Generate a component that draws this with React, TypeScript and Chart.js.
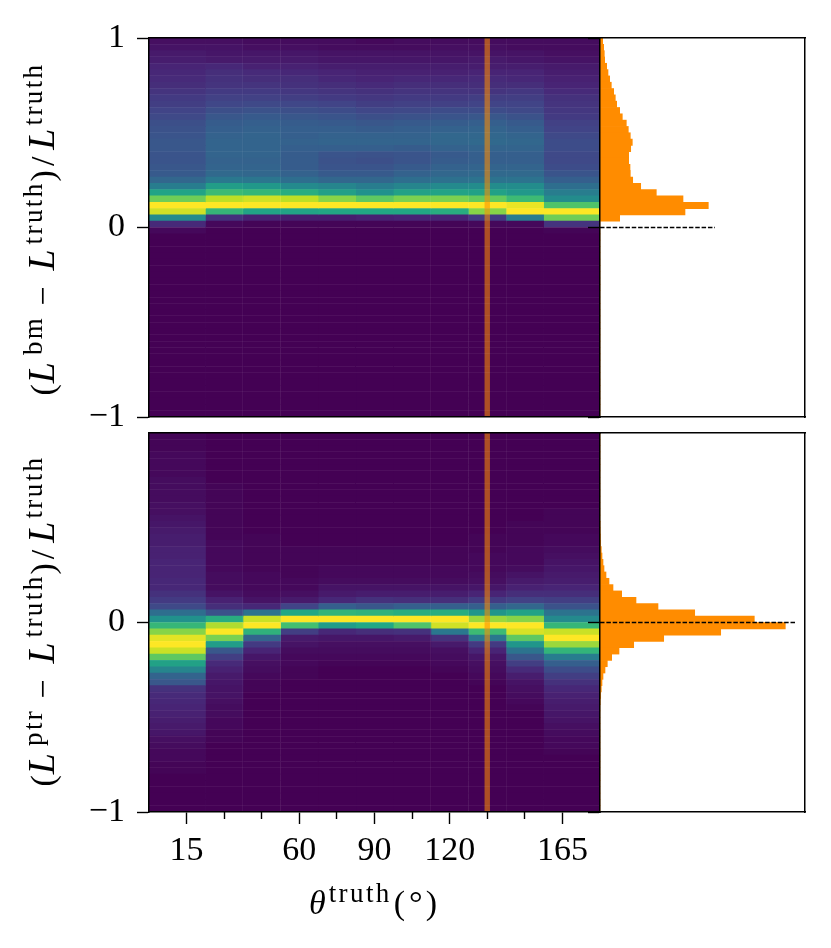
import React, { useEffect, useRef } from "react";
import { Chart, registerables } from "chart.js";

Chart.register(...registerables);

// theta bins (degrees wide, left to right from 0 to 180)
const thetaBinWidths = [22.5, 15, 15, 15, 15, 15, 15, 15, 15, 15, 22.5];
const thetaMajorTicks = [15, 60, 90, 120, 165];
const thetaMinorTicks = [30, 45, 75, 105, 135, 150];
const thetaSeams = [37.5, 52.5, 112.5, 127.5, 142.5];
const rowSeams = [0.967, 0.9, 0.867, 0.8, 0.7, 0.6, 0.5, 0.4, 0.3, 0.2, 0.1, 0, -0.1, -0.2, -0.3, -0.367, -0.4, -0.467, -0.5, -0.567, -0.6, -0.667, -0.767, -0.867, -0.967];
const markedTheta = 135;
const rowCount = 60;
const topTicks = [-1, 0, 1];
const bottomTicks = [-1, 0];

// heat rows, top (+1) to bottom (-1), colour-map position in percent; rows not listed are 0
const topCol0 = [4,5,7,8,10,11,12,13,15,17,18,20,22,24,25,26,27,27,26,26,27,28,33,42,58,78,100,93,48,12,2];
const topCol1 = [4,5,6,7,11,13,14,15,17,19,21,24,27,29,30,31,32,32,32,31,32,34,40,55,68,90,100,66,14,2];
const topCol2 = [3,4,6,7,9,12,13,15,17,19,22,25,28,30,31,32,32,32,32,31,32,33,39,53,66,93,100,58,9,1];
const topCol3 = [3,4,6,7,9,11,13,14,16,18,21,24,27,29,30,30,31,30,29,29,29,31,36,47,62,90,100,58,8,1];
const topCol4 = [3,3,5,6,8,10,11,13,15,17,20,23,26,28,30,31,32,30,26,25,26,28,33,45,56,82,100,60,8,1];
const topCol5 = [2,3,5,6,8,9,10,12,14,16,18,21,24,27,29,31,32,30,25,24,26,28,33,42,50,75,100,60,9,1];
const topCol6 = [3,3,5,6,8,9,11,13,15,17,19,22,25,28,30,31,32,29,26,26,28,31,36,45,57,80,100,60,10,1];
const topCol7 = [3,4,5,6,8,9,11,13,15,17,19,23,26,29,31,33,33,31,28,29,31,33,37,47,58,80,100,62,10,1];
const topCol8 = [3,4,5,7,8,10,12,13,15,18,20,23,27,30,32,33,34,32,30,30,32,34,38,48,57,76,100,82,17,2];
const topCol9 = [3,3,5,6,8,10,11,13,16,18,20,22,25,28,30,32,33,32,30,30,32,34,38,48,53,68,97,100,42,2];
const topCol10 = [3,3,4,5,7,8,9,10,12,14,15,16,17,19,20,22,23,23,22,22,23,26,30,36,42,48,72,100,78,15,1];

const botCol0 = [1,1,1,2,2,2,2,3,3,3,3,4,4,5,6,7,8,8,9,9,10,10,10,11,11,14,17,22,36,50,66,82,96,100,92,75,57,45,32,27,14,12,11,10,9,8,7,6,4,3,2,2,1,1];
const botCol1 = [0,0,0,0,0,0,0,0,1,1,1,1,1,1,1,1,1,2,2,2,2,2,3,3,3,5,9,13,25,62,88,100,80,55,27,18,12,9,7,6,5,5,4,3,3,2,2,1,1];
const botCol2 = [0,0,0,0,0,0,0,0,0,0,0,0,0,0,0,0,1,1,1,1,1,1,2,2,2,3,5,11,38,92,100,64,32,17,10,6,4,3,2,1,1];
const botCol3 = [0,0,0,0,0,0,0,0,0,0,0,0,0,0,0,0,0,0,1,1,1,1,1,2,2,4,7,20,60,100,70,18,7,5,3,2,2,1,1];
const botCol4 = [0,0,0,0,0,0,0,0,0,0,0,0,0,0,0,0,0,0,1,1,1,2,2,3,5,7,11,30,65,100,55,11,6,4,3,2,1];
const botCol5 = [0,0,0,0,0,0,0,0,0,0,0,0,0,0,0,0,0,0,1,1,1,2,2,3,5,8,14,27,64,100,60,13,6,4,3,2,1];
const botCol6 = [0,0,0,0,0,0,0,0,0,0,0,0,0,0,0,0,0,0,1,1,1,2,2,3,5,8,13,30,62,100,72,14,7,4,3,2,1];
const botCol7 = [0,0,0,0,0,0,0,0,0,0,0,0,0,0,0,0,0,0,1,1,1,2,2,3,5,8,13,30,62,100,93,40,14,7,4,3,2,1];
const botCol8 = [0,0,0,0,0,0,0,0,0,0,0,0,0,0,0,0,1,1,1,2,2,2,3,4,6,10,17,30,52,85,100,68,40,17,10,6,4,3,2,1];
const botCol9 = [0,0,0,0,0,0,0,0,0,0,0,0,0,0,1,1,1,1,2,2,2,3,5,7,9,13,19,33,58,82,100,94,75,52,38,27,18,12,8,5,4,3,2,1];
const botCol10 = [0,0,0,0,0,0,0,0,0,0,0,0,1,1,1,1,2,2,3,4,5,6,7,8,10,13,18,25,38,47,66,92,100,85,65,42,30,23,18,14,11,9,8,7,6,5,4,3,2,2,1];

// histogram rows, top to bottom
const topHist = [2.7,3.7,4.3,4.7,6.7,8,9.7,11.3,13.7,15.3,16.7,19.7,22.3,26.3,28.3,30.3,32.3,30.7,28.7,28.7,30,30.3,32.7,40.7,56.3,83,108.3,85,19.7];
const bottomHist = [0,0,0,0,0,0,0,0,0,0,0,0,0,0,0.2,0.3,0.5,0.7,1.3,2,3,4,6,9,13,21.7,36,58,94.7,154.3,185.3,120.7,63.7,33.7,19,11.7,7.3,5,3,2,1.3,0.7,0.3];
const topDashEnd = 115;
const bottomDashEnd = 196;
const histMax = 205;

const viridisStops = ["#440154","#482475","#414487","#355f8d","#2a788e","#21918c","#22a884","#44bf70","#7ad151","#bddf26","#fde725"];

function viridis(percent: number): string {
  const p = Math.min(9.9999, Math.max(0, percent / 10));
  const i = Math.floor(p);
  const t = p - i;
  const a = viridisStops[i];
  const b = viridisStops[i + 1];
  const ch = (s: string, o: number) => parseInt(s.slice(o, o + 2), 16);
  const mix = (o: number) => Math.round(ch(a, o) + (ch(b, o) - ch(a, o)) * t);
  return `rgb(${mix(1)},${mix(3)},${mix(5)})`;
}

const rowLabels = Array.from({ length: rowCount }, (_, k) => String(k));
const FONT = "'Liberation Serif', serif";
const BLACK = "#000";
const SPINE = 1.5;
const TICK = 1.4;
const PAD = 40;

const hiddenFit = (dim: "width" | "height", size: number) => (s: any) => {
  s[dim] = size;
};

function spineScale(extra: any) {
  return {
    display: true,
    offset: false,
    ticks: { display: false },
    grid: { display: false, drawTicks: false, offset: false },
    border: { display: true, color: BLACK, width: SPINE, z: 3 },
    ...extra,
  };
}

function seamScale(extra: any, values: number[]) {
  return {
    display: true,
    type: "linear",
    offset: false,
    ticks: { display: false, autoSkip: false },
    grid: { display: true, offset: false, color: "rgba(255,255,255,0.055)", lineWidth: 1, drawTicks: false, z: 1 },
    border: { display: false },
    afterBuildTicks: (s: any) => {
      s.ticks = values.map((value) => ({ value }));
    },
    ...extra,
  };
}

function ticksAt(values: number[]) {
  return (s: any) => {
    s.ticks = values.map((value) => ({ value }));
  };
}

function fmtTick(v: number | string) {
  const n = Number(v);
  return n < 0 ? "\u2212" + Math.abs(n) : String(n);
}

function heatConfig(cols: number[][], yTicks: number[], withXTicks: boolean): any {
  const bars = cols.map((col, c) => ({
    type: "bar",
    indexAxis: "y",
    stack: "s",
    xAxisID: "x",
    yAxisID: "yc",
    data: rowLabels.map(() => thetaBinWidths[c]),
    backgroundColor: rowLabels.map((_, k) => viridis(col[k] ?? 0)),
    borderWidth: 0,
    categoryPercentage: 1,
    barPercentage: 1,
  }));
  const xBottom: any = withXTicks
    ? {
        type: "linear",
        offset: false,
        min: 0,
        max: 180,
        position: "bottom",
        weight: 1,
        afterBuildTicks: ticksAt(thetaMajorTicks),
        afterFit: hiddenFit("height", 60),
        ticks: { autoSkip: false, maxRotation: 0, color: BLACK, padding: 7, font: { family: FONT, size: 34 }, callback: fmtTick },
        grid: { offset: false, drawOnChartArea: false, drawTicks: true, tickLength: 12, tickWidth: TICK, tickColor: BLACK },
        border: { display: true, color: BLACK, width: SPINE, z: 3 },
      }
    : spineScale({ type: "linear", min: 0, max: 180, position: "bottom", afterFit: hiddenFit("height", 0) });
  const scales: any = {
    x: { ...xBottom, stacked: true },
    xt: spineScale({ type: "linear", min: 0, max: 180, position: "top", afterFit: hiddenFit("height", 0) }),
    xs: seamScale({ min: 0, max: 180, position: "bottom", weight: 0, afterFit: hiddenFit("height", 0) }, thetaSeams),
    yc: { type: "category", display: false, offset: true, stacked: true, labels: rowLabels, grid: { offset: true } },
    yl: {
      type: "linear",
      min: -1,
      max: 1,
      position: "left",
      weight: 1,
      afterBuildTicks: ticksAt(yTicks),
      afterFit: hiddenFit("width", 149),
      ticks: { autoSkip: false, color: BLACK, padding: 12, font: { family: FONT, size: 34 }, callback: fmtTick },
      grid: { drawOnChartArea: false, drawTicks: true, tickLength: 12, tickWidth: TICK, tickColor: BLACK },
      border: { display: true, color: BLACK, width: SPINE, z: 3 },
    },
    ys: seamScale({ min: -1, max: 1, position: "left", weight: 0, afterFit: hiddenFit("width", 0) }, rowSeams),
  };
  if (withXTicks) {
    scales.xm = {
      type: "linear",
      offset: false,
      min: 0,
      max: 180,
      position: "bottom",
      weight: 0,
      afterBuildTicks: ticksAt(thetaMinorTicks),
      afterFit: hiddenFit("height", 0),
      ticks: { display: false, autoSkip: false },
      grid: { offset: false, drawOnChartArea: false, drawTicks: true, tickLength: 7, tickWidth: TICK, tickColor: BLACK },
      border: { display: false },
    };
  }
  return {
    type: "bar",
    data: {
      labels: rowLabels,
      datasets: [
        {
          type: "line",
          xAxisID: "x",
          yAxisID: "yl",
          data: [
            { x: markedTheta, y: -1 },
            { x: markedTheta, y: 1 },
          ],
          borderColor: "rgba(255,140,0,0.56)",
          borderWidth: 5.4,
          pointRadius: 0,
        },
        ...bars,
      ],
    },
    options: {
      animation: false,
      responsive: false,
      layout: { padding: { left: 0, right: 10, top: PAD, bottom: withXTicks ? 30 : PAD } },
      plugins: { legend: { display: false }, tooltip: { enabled: false } },
      scales,
    },
  };
}

function histConfig(values: number[], dashEnd: number, yTicks: number[]): any {
  return {
    type: "bar",
    data: {
      labels: rowLabels,
      datasets: [
        {
          type: "line",
          xAxisID: "x",
          yAxisID: "yl",
          data: [
            { x: 0, y: 0 },
            { x: dashEnd, y: 0 },
          ],
          borderColor: BLACK,
          borderWidth: 1.3,
          borderDash: [4.5, 1.85],
          pointRadius: 0,
        },
        {
          type: "bar",
          indexAxis: "y",
          xAxisID: "x",
          yAxisID: "yc",
          stack: "s",
          data: rowLabels.map((_, k) => values[k] ?? 0),
          backgroundColor: "#ff8c00",
          borderWidth: 0,
          categoryPercentage: 1,
          barPercentage: 1,
        },
      ],
    },
    options: {
      animation: false,
      responsive: false,
      layout: { padding: { left: 0, right: 26, top: PAD, bottom: PAD } },
      plugins: { legend: { display: false }, tooltip: { enabled: false } },
      scales: {
        x: spineScale({ type: "linear", min: 0, max: histMax, position: "bottom", stacked: true, afterFit: hiddenFit("height", 0) }),
        xt: spineScale({ type: "linear", min: 0, max: histMax, position: "top", afterFit: hiddenFit("height", 0) }),
        yc: { type: "category", display: false, offset: true, stacked: true, labels: rowLabels, grid: { offset: true } },
        yl: {
          type: "linear",
          min: -1,
          max: 1,
          position: "left",
          afterBuildTicks: ticksAt(yTicks),
          afterFit: hiddenFit("width", 20),
          ticks: { display: false, autoSkip: false },
          grid: { drawOnChartArea: false, drawTicks: true, tickLength: 12, tickWidth: TICK, tickColor: BLACK, z: 3 },
          border: { display: true, color: BLACK, width: SPINE, z: 3 },
        },
        yr: spineScale({ type: "linear", min: -1, max: 1, position: "right", afterFit: hiddenFit("width", 0) }),
      },
    },
  };
}

function Panel({ config, left, top, width, height }: { config: () => any; left: number; top: number; width: number; height: number }) {
  const ref = useRef<HTMLCanvasElement>(null);
  useEffect(() => {
    const chart = new Chart(ref.current as HTMLCanvasElement, config());
    return () => chart.destroy();
  }, []);
  return <canvas ref={ref} width={width} height={height} style={{ position: "absolute", left, top, width, height }} />;
}

function Sup({ children, ml = 0 }: { children: React.ReactNode; ml?: number }) {
  return (
    <span style={{ fontSize: 27, position: "relative", top: -12, lineHeight: 0, letterSpacing: 2.4, marginLeft: ml }}>{children}</span>
  );
}

function Gap({ children, ml = 0 }: { children: React.ReactNode; ml?: number }) {
  return <span style={{ marginLeft: ml }}>{children}</span>;
}

function BigL({ ml = 0 }: { ml?: number }) {
  return <i style={{ fontSize: 38, marginLeft: ml, lineHeight: 0 }}>L</i>;
}

function YLabel({ tag, center, baseline }: { tag: string; center: number; baseline: number }) {
  return (
    <div
      style={{
        position: "absolute",
        left: baseline,
        top: center,
        transform: "translate(-50%,-50%) rotate(-90deg)",
        whiteSpace: "nowrap",
        fontFamily: FONT,
        fontSize: 34,
        color: BLACK,
        lineHeight: 1,
      }}
    >
      (
      <BigL ml={1} />
      <Sup ml={7}>{tag}</Sup>
      <Gap ml={10}>{"\u2212"}</Gap>
      <BigL ml={16} />
      <Sup ml={5}>truth</Sup>
      <Gap ml={0}>)</Gap>
      <Gap ml={4}>/</Gap>
      <BigL ml={7} />
      <Sup ml={3}>truth</Sup>
    </div>
  );
}

export default function App() {
  return (
    <div style={{ position: "absolute", left: 0, top: 0, width: 831, height: 948, background: "#fff", overflow: "hidden" }}>
      <Panel
        left={0}
        top={38 - PAD}
        width={610}
        height={379 + 2 * PAD}
        config={() => heatConfig([topCol0, topCol1, topCol2, topCol3, topCol4, topCol5, topCol6, topCol7, topCol8, topCol9, topCol10], topTicks, false)}
      />
      <Panel
        left={0}
        top={433 - PAD}
        width={610}
        height={379 + PAD + 60 + 30}
        config={() => heatConfig([botCol0, botCol1, botCol2, botCol3, botCol4, botCol5, botCol6, botCol7, botCol8, botCol9, botCol10], bottomTicks, true)}
      />
      <Panel left={580} top={38 - PAD} width={251} height={379 + 2 * PAD} config={() => histConfig(topHist, topDashEnd, topTicks)} />
      <Panel left={580} top={433 - PAD} width={251} height={379 + 2 * PAD} config={() => histConfig(bottomHist, bottomDashEnd, bottomTicks)} />
      <YLabel tag="bm" center={229} baseline={43} />
      <YLabel tag="ptr" center={621} baseline={43} />
      <div
        style={{
          position: "absolute",
          left: 373,
          top: 903,
          transform: "translate(-50%,-50%)",
          whiteSpace: "nowrap",
          fontFamily: FONT,
          fontSize: 34,
          color: BLACK,
          lineHeight: 1,
        }}
      >
        <i>θ</i>
        <Sup ml={3}>truth</Sup>
        <Gap ml={2}>(</Gap>
        <Gap ml={4}>°</Gap>
        <Gap ml={3}>)</Gap>
      </div>
    </div>
  );
}
